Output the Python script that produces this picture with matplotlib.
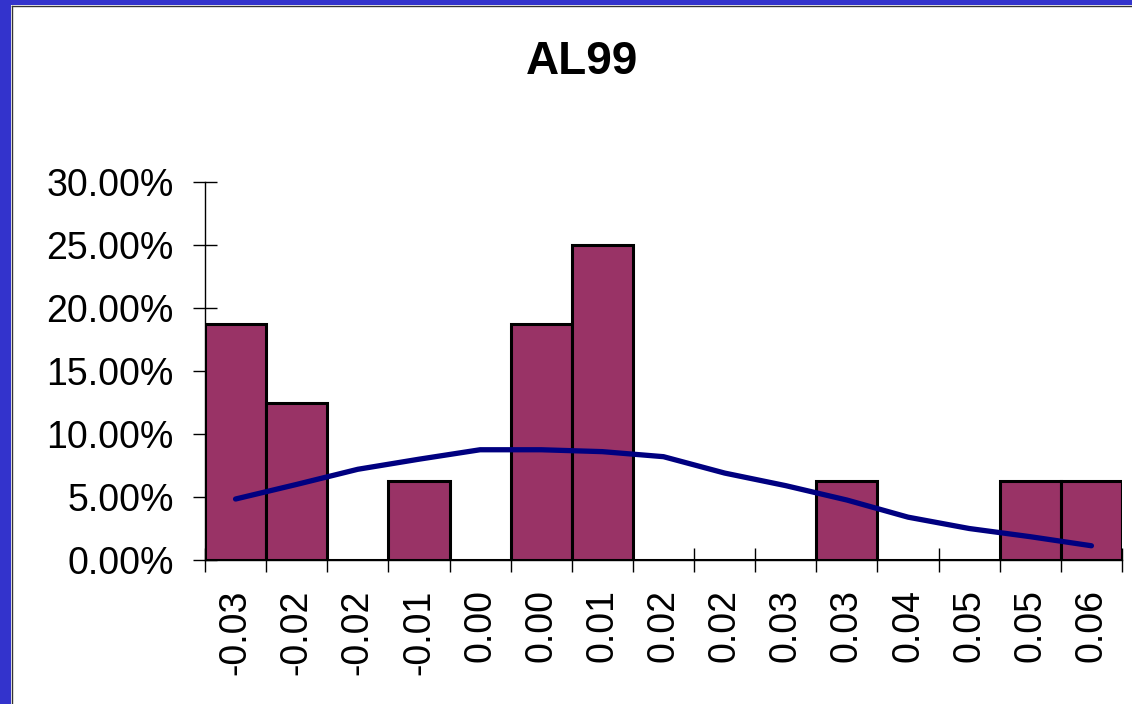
import matplotlib.pyplot as plt
from matplotlib.patches import Rectangle
from matplotlib.ticker import PercentFormatter, FixedLocator
import numpy as np

plt.rcParams['font.family'] = ['Liberation Sans', 'DejaVu Sans']

bins = ["-0.03", "-0.02", "-0.02", "-0.01", "0.00", "0.00", "0.01", "0.02",
        "0.02", "0.03", "0.03", "0.04", "0.05", "0.05", "0.06"]
freq = [18.75, 12.5, 0, 6.25, 0, 18.75, 25, 0, 0, 0, 6.25, 0, 0, 6.25, 6.25]
normal_fit = [4.84, 6.0, 7.2, 8.0, 8.75, 8.75, 8.6, 8.2, 6.9, 5.9,
              4.76, 3.4, 2.5, 1.85, 1.13]

fig = plt.figure(figsize=(11.32, 7.04), dpi=100)
W, H = 1132, 704

# frame along the left and top edge
fig.patches.append(Rectangle((0, 0), 11 / W, 1, transform=fig.transFigure,
                             facecolor='#3333cc', edgecolor='none', zorder=-5))
fig.patches.append(Rectangle((0, 1 - 5 / H), 1, 5 / H, transform=fig.transFigure,
                             facecolor='#3333cc', edgecolor='none', zorder=-5))
fig.add_artist(plt.Line2D([11.5 / W, 11.5 / W], [0, 1 - 5.5 / H], transform=fig.transFigure,
                          color='#333333', lw=1))
fig.add_artist(plt.Line2D([11.5 / W, 1], [1 - 5.5 / H, 1 - 5.5 / H], transform=fig.transFigure,
                          color='#333333', lw=1))

ax = fig.add_axes([205 / W, 1 - 560 / H, (1122 - 205) / W, (560 - 182) / H])
ax.set_axisbelow(True)

x = np.arange(len(bins))
ax.bar(x, freq, width=1.0, align='edge', color='#993366', edgecolor='black', linewidth=2.2)
ax.plot(x + 0.5, normal_fit, color='#000080', linewidth=3.8, solid_capstyle='round',
        solid_joinstyle='round', zorder=3)

ax.set_xlim(0, len(bins))
ax.set_ylim(0, 30)
ax.yaxis.set_major_locator(FixedLocator(np.arange(0, 31, 5)))
ax.yaxis.set_major_formatter(PercentFormatter(xmax=100, decimals=2))

ax.set_xticks(np.arange(len(bins) + 1))
ax.set_xticklabels([])
ax.set_xticks(x + 0.5, minor=True)
ax.set_xticklabels(bins, minor=True, rotation=90, fontsize=27)
ax.tick_params(axis='x', which='minor', length=0, pad=21)
ax.tick_params(axis='x', which='major', direction='inout', length=17, width=1)
ax.tick_params(axis='y', direction='inout', length=17, width=1, pad=14, labelsize=27)

for s in ['top', 'right']:
    ax.spines[s].set_visible(False)
ax.spines['left'].set_linewidth(1)
ax.spines['bottom'].set_linewidth(1)
ax.set_facecolor('none')

fig.text(582 / W, 1 - 62 / H, "AL99", ha='center', va='center', fontsize=33, fontweight='bold')

fig.savefig('out.png', dpi=100)
